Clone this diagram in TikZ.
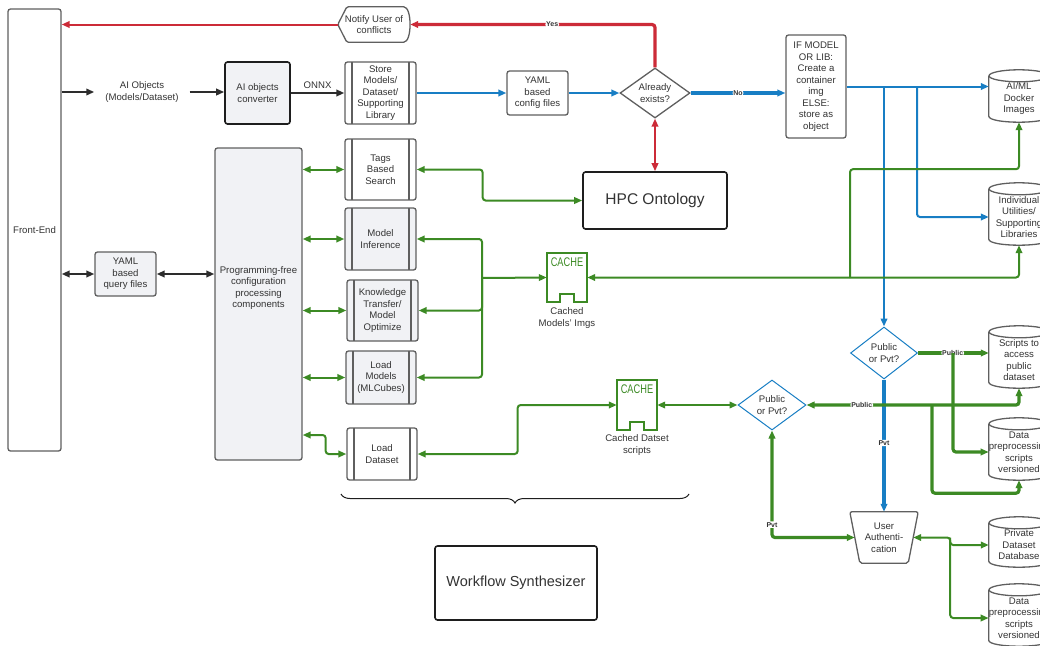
\documentclass[tikz,border=0pt]{standalone}
\usepackage{fontspec}
\setmainfont{Liberation Sans}
\usetikzlibrary{arrows.meta,calc,decorations.pathreplacing,shapes.geometric}
\definecolor{tx}{RGB}{51,51,51}
\definecolor{bd}{RGB}{95,95,95}
\definecolor{dk}{RGB}{30,30,30}
\definecolor{fl}{RGB}{241,242,245}
\definecolor{rd}{RGB}{204,43,56}
\definecolor{bl}{RGB}{24,126,196}
\definecolor{gr}{RGB}{60,138,36}
\definecolor{ar}{RGB}{45,45,45}
\newcommand\cylout[1]{%
  \draw[bd,line width=1.3pt] (#1.north west) -- ($(#1.south west)+(0,-6)$) .. controls ($(#1.south west)+(0,2)$) and ($(#1.south east)+(0,2)$) .. ($(#1.south east)+(0,-6)$) -- (#1.north east);
  \draw[bd,line width=1.3pt] (#1.north) ellipse [x radius=30pt, y radius=6pt];}
\newcommand\cacheout[1]{%
  \draw[gr,line width=2.4pt,line join=miter] (#1.north west) -- (#1.south west) -- ++(13,0) -- ++(0,-8) -- ++(14,0) -- ++(0,8) -- (#1.south east) -- (#1.north east) -- cycle;}
\tikzset{
  base/.style={font=\fontsize{9.6}{11.5}\selectfont, text=tx, align=center, inner sep=0pt},
  box/.style={base, draw=bd, line width=1.3pt, rounded corners=2.5pt, fill=white},
  gbox/.style={box, fill=fl},
  procline/.style={path picture={
    \draw[bd,line width=1.3pt] ([xshift=7pt]path picture bounding box.north west) -- ([xshift=7pt]path picture bounding box.south west);
    \draw[bd,line width=1.3pt] ([xshift=-7pt]path picture bounding box.north east) -- ([xshift=-7pt]path picture bounding box.south east);}},
  proc/.style={box, procline},
  gproc/.style={gbox, procline},
  diam/.style={base, diamond, aspect=1.4, draw=bd, line width=1.3pt, minimum width=70pt, minimum height=50pt, fill=white},
  bdiam/.style={diam, draw=bl, line width=1pt},
  ghost/.style={base},
  cyl/.style={base, minimum width=60pt},
  cachebox/.style={base, minimum width=40pt},
  cachetxt/.style={text=gr, inner sep=0pt, font=\fontsize{12.5}{13}\selectfont},
  lbl/.style={font=\fontsize{7}{8}\selectfont\bfseries, text=tx, fill=white, inner sep=0.8pt},
  conn/.style={line width=2pt, rounded corners=3pt},
  dkc/.style={conn, draw=ar},
  blc/.style={conn, draw=bl},
  rdc/.style={conn, draw=rd},
  gnc/.style={conn, draw=gr},
  heavy/.style={line width=3.2pt},
}
\begin{document}
\begin{tikzpicture}[x=1pt,y=-1pt,>={Triangle[length=8pt,width=6.5pt]}]
\useasboundingbox (0,0) rectangle (1040,645);
\clip (0,0) rectangle (1040,645);

% ---------- nodes ----------
\node[box, minimum width=53pt, minimum height=442pt] (fe) at (34.5,230) {Front-End};
\node[base, inner xsep=11pt] (aiobj) at (142,92) {AI Objects\\(Models/Dataset)};
\node[gbox, draw=dk, line width=1.6pt, minimum width=65pt, minimum height=62pt] (conv) at (257.5,93) {AI objects\\converter};
\node[proc, minimum width=71pt, minimum height=62pt] (store) at (380.5,93) {Store\\Models/\\Dataset/\\Supporting\\Library};
\node[box, minimum width=61pt, minimum height=44pt] (ycfg) at (537.5,93) {YAML\\based\\config files};
\node[diam] (ae) at (655,93) {Already\\exists?};
\node[box, minimum width=60pt, minimum height=103pt] (ifm) at (816,86.5) {IF MODEL\\OR LIB:\\Create a\\container\\img\\ELSE:\\store as\\object};
\node[ghost, minimum width=72pt, minimum height=35pt] (notify) at (374,24.5) {Notify User of\\conflicts};
\draw[bd,line width=1.3pt,rounded corners=1.5pt] (notify.west) -- ($(notify.north west)+(9,0)$) -- ($(notify.north east)+(-8,0)$) .. controls ($(notify.north east)+(2,0)$) and ($(notify.south east)+(2,0)$) .. ($(notify.south east)+(-8,0)$) -- ($(notify.south west)+(9,0)$) -- cycle;

\node[gbox, minimum width=61pt, minimum height=44pt] (yq) at (125.5,274) {YAML\\based\\query files};
\node[gbox, minimum width=87pt, minimum height=312pt] (prog) at (258.5,304) {};
\node[base] (progtxt) at (258.5,288) {Programming-free\\configuration\\processing\\components};

\node[proc, minimum width=71pt, minimum height=61pt] (tags) at (380.5,169.5) {Tags\\Based\\Search};
\node[gproc, minimum width=71pt, minimum height=62pt] (mi) at (380.5,239) {Model\\Inference};
\node[gproc, minimum width=71pt, minimum height=61pt] (ko) at (382.5,310.5) {Knowledge\\Transfer/\\Model\\Optimize};
\node[gproc, minimum width=70pt, minimum height=53pt] (lm) at (381,377.5) {Load\\Models\\(MLCubes)};
\node[proc, minimum width=70pt, minimum height=52pt] (ld) at (382,454) {Load\\Dataset};

\node[box, draw=dk, line width=1.6pt, minimum width=144pt, minimum height=57pt, font=\fontsize{15.5}{18}\selectfont] (hpc) at (655,200.5) {HPC Ontology};
\node[box, draw=dk, line width=1.6pt, minimum width=162pt, minimum height=74pt, font=\fontsize{14.5}{17}\selectfont] (wf) at (516,583) {Workflow Synthesizer};

% caches
\node[cachebox, minimum height=49pt] (cacheA) at (567,277.5) {};
\cacheout{cacheA}
\node[cachetxt] (cacheAt) at ($(cacheA.north)+(0,9.5)$) {\scalebox{0.74}[1]{CACHE}};
\node[base] (cacheAl) at (567,318) {Cached\\Models' Imgs};
\node[cachebox, minimum height=50pt] (cacheB) at (637,405) {};
\cacheout{cacheB}
\node[cachetxt] (cacheBt) at ($(cacheB.north)+(0,9.5)$) {\scalebox{0.74}[1]{CACHE}};
\node[base] (cacheBl) at (637,445) {Cached Datset\\scripts};

% diamonds
\node[bdiam, minimum width=67pt, minimum height=52pt] (d1) at (884,353) {Public\\or Pvt?};
\node[bdiam, minimum width=68pt, minimum height=50pt] (d2) at (772,405) {Public\\or Pvt?};

% user authentication
\node[ghost, minimum width=68pt, minimum height=51pt] (auth) at (884,537.5) {User\\Authenti-\\cation};
\draw[bd,line width=1.3pt,rounded corners=2pt] (auth.north west) -- (auth.north east) -- ($(auth.south east)+(-10,0)$) -- ($(auth.south west)+(10,0)$) -- cycle;

% cylinders
\node[cyl, minimum height=46pt] (docker) at (1019,99) {AI/ML\\Docker\\Images};
\cylout{docker}
\node[cyl, minimum height=56pt] (util) at (1019,217) {Individual\\Utilities/\\Supporting\\Libraries};
\cylout{util}
\node[cyl, minimum height=56pt] (scripts) at (1019,360) {Scripts to\\access\\public\\dataset};
\cylout{scripts}
\node[cyl, minimum height=56pt] (dp1) at (1019,452) {Data\\preprocessing\\scripts\\versioned};
\cylout{dp1}
\node[cyl, minimum height=44pt] (priv) at (1019,545) {Private\\Dataset\\Database};
\cylout{priv}
\node[cyl, minimum height=56pt] (dp2) at (1019,618) {Data\\preprocessing\\scripts\\versioned};
\cylout{dp2}

% ---------- connectors ----------
% dark
\draw[dkc,->] (fe.east |- aiobj) -- (aiobj.west);
\draw[dkc,->] (aiobj.east) -- (aiobj.east -| conv.west);
\draw[dkc,->] (conv.east) -- node[base, above=3pt] (onnx) {ONNX} (store.west);
\draw[dkc,<->] (fe.east |- yq) -- (yq.west);
\draw[dkc,<->] (yq.east) -- (yq.east -| prog.west);

% blue
\draw[blc,->] (store.east) -- (ycfg.west);
\draw[blc,->] (ycfg.east) -- (ae.west);
\draw[blc,heavy,->] (ae.east) -- node[lbl] (nolbl) {No} (ae.east -| ifm.west);
\draw[blc,->] (ifm.east) -- (ifm.east -| docker.west);
\coordinate (b1) at (d1.north |- ifm.east);
\coordinate (b2) at ($(b1)+(33,0)$);
\draw[blc,->] (b1) -- (d1.north);
\draw[blc,->] (b2) |- (util.west);
\draw[blc,heavy,->] (d1.south) -- node[lbl,pos=0.48] (pvt1) {Pvt} (auth.north);

% red
\draw[rdc,heavy,->] (ae.north) |- node[lbl,pos=0.71] (yes) {Yes} (notify.east);
\draw[rdc,->] (notify.west) -- (notify.west -| fe.east);
\draw[rdc,<->] (ae.south) -- (hpc.north);

% green, left side
\draw[gnc,<->] (prog.east |- tags) -- (tags.west);
\draw[gnc,<->] (prog.east |- mi) -- (mi.west);
\draw[gnc,<->] (prog.east |- ko) -- (ko.west);
\draw[gnc,<->] (prog.east |- lm) -- (lm.west);
\draw[gnc,<->] ($(prog.east)+(0,131)$) -- ++(23,0) |- (ld.west);

\draw[gnc,<->] (tags.east) -- ++(66,0) |- (hpc.west);
\coordinate (bus) at (482,278);
\draw[gnc,<-] (mi.east) -| (bus);
\draw[gnc,<-] (ko.east) -| (bus);
\draw[gnc,<-] (lm.east) -| (bus);
\draw[gnc,->] (bus) -- (cacheA.west);
\draw[gnc,<->] (ld.east) -- ++(100,0) |- (cacheB.west);
\draw[gnc,<->] (cacheB.east) -- (d2.west);
\draw[gnc,<->] (cacheA.east) -| (util.south);
\coordinate (j2) at (850,278);
\draw[gnc,->] (j2) |- ($(docker.south)+(0,47)$) -- (docker.south);

% green, right side
\draw[gnc,heavy,->] (d1.east) -- node[lbl,pos=0.49] (pub1) {Public} (d1.east -| scripts.west);
\coordinate (j3) at ($(d1.east)+(35,0)$);
\draw[gnc,heavy,->] (j3) |- (dp1.west);
\draw[gnc,heavy,<->] (d2.east) -| node[lbl,pos=0.13] (pub2) {Public} (scripts.south);
\coordinate (j4) at (932,405);
\draw[gnc,heavy,->] (j4) |- ($(dp1.south)+(0,13)$) -- (dp1.south);
\draw[gnc,heavy,<->] (d2.south) |- node[lbl,pos=0.44] (pvt2) {Pvt} ([xshift=5pt]auth.west);
\coordinate (j5) at ($([xshift=-5pt]auth.east)+(37,0)$);
\draw[gnc,<->] ([xshift=-5pt]auth.east) -- (j5) |- (priv.west);
\draw[gnc,->] (j5) |- (dp2.west);

% brace
\coordinate (brL) at (341,494);
\coordinate (brR) at (689,494);
\draw[dk,line width=1pt,decorate,decoration={brace,mirror,amplitude=9pt}] (brL) -- (brR);
\end{tikzpicture}
\end{document}
